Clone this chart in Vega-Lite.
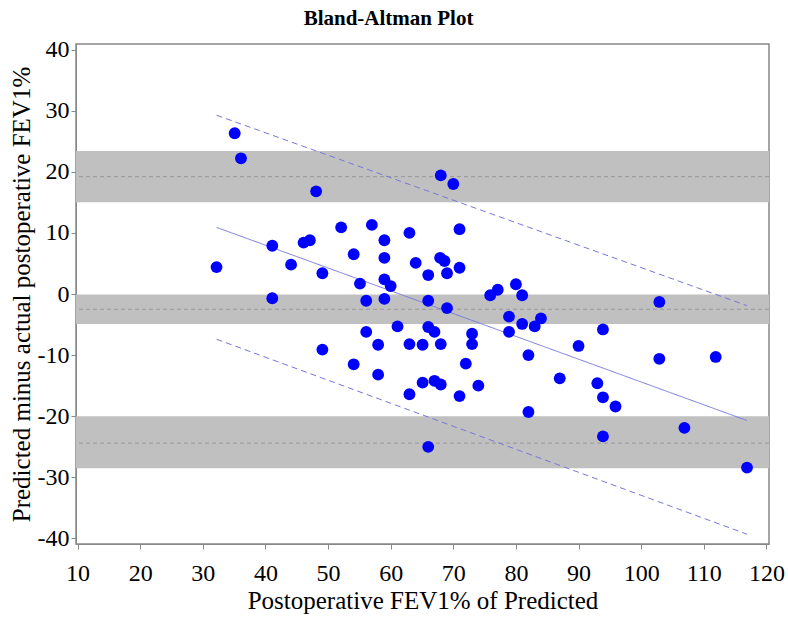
{
  "$schema": "https://vega.github.io/schema/vega-lite/v6.json",
  "autosize": {"type": "none"},
  "padding": {"left": 76, "top": 44, "right": 19, "bottom": 73},
  "width": 693,
  "height": 500,
  "background": "white",
  "title": {
    "text": "Bland-Altman Plot",
    "font": "Liberation Serif",
    "fontSize": 21,
    "fontWeight": "bold",
    "color": "black",
    "anchor": "middle",
    "frame": "group",
    "dx": -34,
    "offset": 9
  },
  "config": {
    "font": "Liberation Serif",
    "view": {"stroke": "#888888", "strokeWidth": 1.5},
    "axis": {
      "labelFont": "Liberation Serif",
      "titleFont": "Liberation Serif",
      "labelFontSize": 24,
      "titleFontSize": 25,
      "titleFontWeight": "normal",
      "labelColor": "black",
      "titleColor": "black",
      "domainColor": "#888888",
      "tickColor": "#888888",
      "tickSize": 5,
      "grid": false
    }
  },
  "datasets": {
    "points": [
      {"x": 35.1, "y": 26.3}, {"x": 36.1, "y": 22.2}, {"x": 48.1, "y": 16.8}, {"x": 68.0, "y": 19.4},
      {"x": 70.0, "y": 18.0}, {"x": 52.1, "y": 10.9}, {"x": 57.0, "y": 11.3}, {"x": 63.0, "y": 10.0},
      {"x": 71.0, "y": 10.6}, {"x": 41.1, "y": 7.9}, {"x": 46.1, "y": 8.4}, {"x": 47.1, "y": 8.8},
      {"x": 59.0, "y": 8.8}, {"x": 54.1, "y": 6.5}, {"x": 59.0, "y": 5.9}, {"x": 67.9, "y": 5.9},
      {"x": 68.6, "y": 5.4}, {"x": 64.0, "y": 5.1}, {"x": 32.2, "y": 4.4}, {"x": 44.1, "y": 4.8},
      {"x": 71.0, "y": 4.3}, {"x": 66.0, "y": 3.1}, {"x": 69.0, "y": 3.4}, {"x": 49.1, "y": 3.4},
      {"x": 59.0, "y": 2.4}, {"x": 60.0, "y": 1.3}, {"x": 55.1, "y": 1.7}, {"x": 41.1, "y": -0.7},
      {"x": 56.1, "y": -1.1}, {"x": 59.0, "y": -0.8}, {"x": 66.0, "y": -1.1}, {"x": 69.0, "y": -2.3},
      {"x": 61.1, "y": -5.3}, {"x": 56.1, "y": -6.2}, {"x": 66.0, "y": -5.4}, {"x": 67.0, "y": -6.2},
      {"x": 73.0, "y": -6.5}, {"x": 73.0, "y": -8.2}, {"x": 58.0, "y": -8.3}, {"x": 63.0, "y": -8.2},
      {"x": 65.1, "y": -8.3}, {"x": 68.0, "y": -8.2}, {"x": 49.1, "y": -9.1}, {"x": 54.1, "y": -11.5},
      {"x": 58.0, "y": -13.2}, {"x": 65.1, "y": -14.5}, {"x": 67.0, "y": -14.2}, {"x": 68.0, "y": -14.8},
      {"x": 63.0, "y": -16.4}, {"x": 71.0, "y": -16.7}, {"x": 72.0, "y": -11.4}, {"x": 74.0, "y": -15.0},
      {"x": 66.0, "y": -25.0}, {"x": 75.9, "y": -0.2}, {"x": 77.1, "y": 0.7}, {"x": 80.0, "y": 1.6},
      {"x": 81.0, "y": -0.2}, {"x": 78.9, "y": -3.7}, {"x": 81.0, "y": -4.9}, {"x": 83.0, "y": -5.3},
      {"x": 84.0, "y": -4.0}, {"x": 78.9, "y": -6.2}, {"x": 93.9, "y": -5.8}, {"x": 102.9, "y": -1.3},
      {"x": 82.0, "y": -10.0}, {"x": 90.0, "y": -8.5}, {"x": 102.9, "y": -10.6}, {"x": 111.9, "y": -10.3},
      {"x": 87.0, "y": -13.8}, {"x": 93.0, "y": -14.6}, {"x": 93.9, "y": -16.9}, {"x": 95.9, "y": -18.4},
      {"x": 82.0, "y": -19.3}, {"x": 93.9, "y": -23.3}, {"x": 106.9, "y": -21.9}, {"x": 116.9, "y": -28.4}
    ],
    "bands": [
      {"lo": 15.0, "hi": 23.4, "mid": 19.2},
      {"lo": -4.9, "hi": -0.1, "mid": -2.5},
      {"lo": -28.5, "hi": -20.0, "mid": -24.4}
    ],
    "lines": [
      {"series": "fit", "x": 32.2, "y": 10.9}, {"series": "fit", "x": 116.9, "y": -20.7},
      {"series": "upper", "x": 32.2, "y": 29.25}, {"series": "upper", "x": 116.9, "y": -1.9},
      {"series": "lower", "x": 32.2, "y": -7.4}, {"series": "lower", "x": 116.9, "y": -39.3}
    ]
  },
  "layer": [
    {
      "data": {"name": "bands"},
      "mark": {"type": "rect", "color": "#c0c0c0"},
      "encoding": {
        "y": {"field": "lo", "type": "quantitative", "scale": {"domain": [-40.9, 40.9], "nice": false, "zero": false},
          "axis": {"values": [-40, -30, -20, -10, 0, 10, 20, 30, 40], "labelExpr": "'' + datum.value", "labelPadding": 2, "title": "Predicted minus actual postoperative FEV1%", "titlePadding": 3}},
        "y2": {"field": "hi"}
      }
    },
    {
      "data": {"name": "bands"},
      "mark": {"type": "rule", "color": "#999999", "strokeDash": [4, 3], "strokeWidth": 1},
      "encoding": {
        "y": {"field": "mid", "type": "quantitative"}
      }
    },
    {
      "data": {"name": "lines"},
      "mark": {"type": "line", "color": "#7777dd", "strokeWidth": 1},
      "encoding": {
        "x": {"field": "x", "type": "quantitative"},
        "y": {"field": "y", "type": "quantitative"},
        "detail": {"field": "series"},
        "strokeDash": {"field": "series", "type": "nominal", "scale": {"domain": ["fit", "upper", "lower"], "range": [[1, 0], [6, 4], [6, 4]]}, "legend": null}
      }
    },
    {
      "data": {"name": "points"},
      "mark": {"type": "circle", "color": "#0000ff", "opacity": 1, "size": 140},
      "encoding": {
        "x": {"field": "x", "type": "quantitative", "scale": {"domain": [9.76, 120.41], "nice": false, "zero": false},
          "axis": {"values": [10, 20, 30, 40, 50, 60, 70, 80, 90, 100, 110, 120], "labelPadding": 12, "title": "Postoperative FEV1% of Predicted", "titlePadding": 3}},
        "y": {"field": "y", "type": "quantitative"}
      }
    }
  ]
}
